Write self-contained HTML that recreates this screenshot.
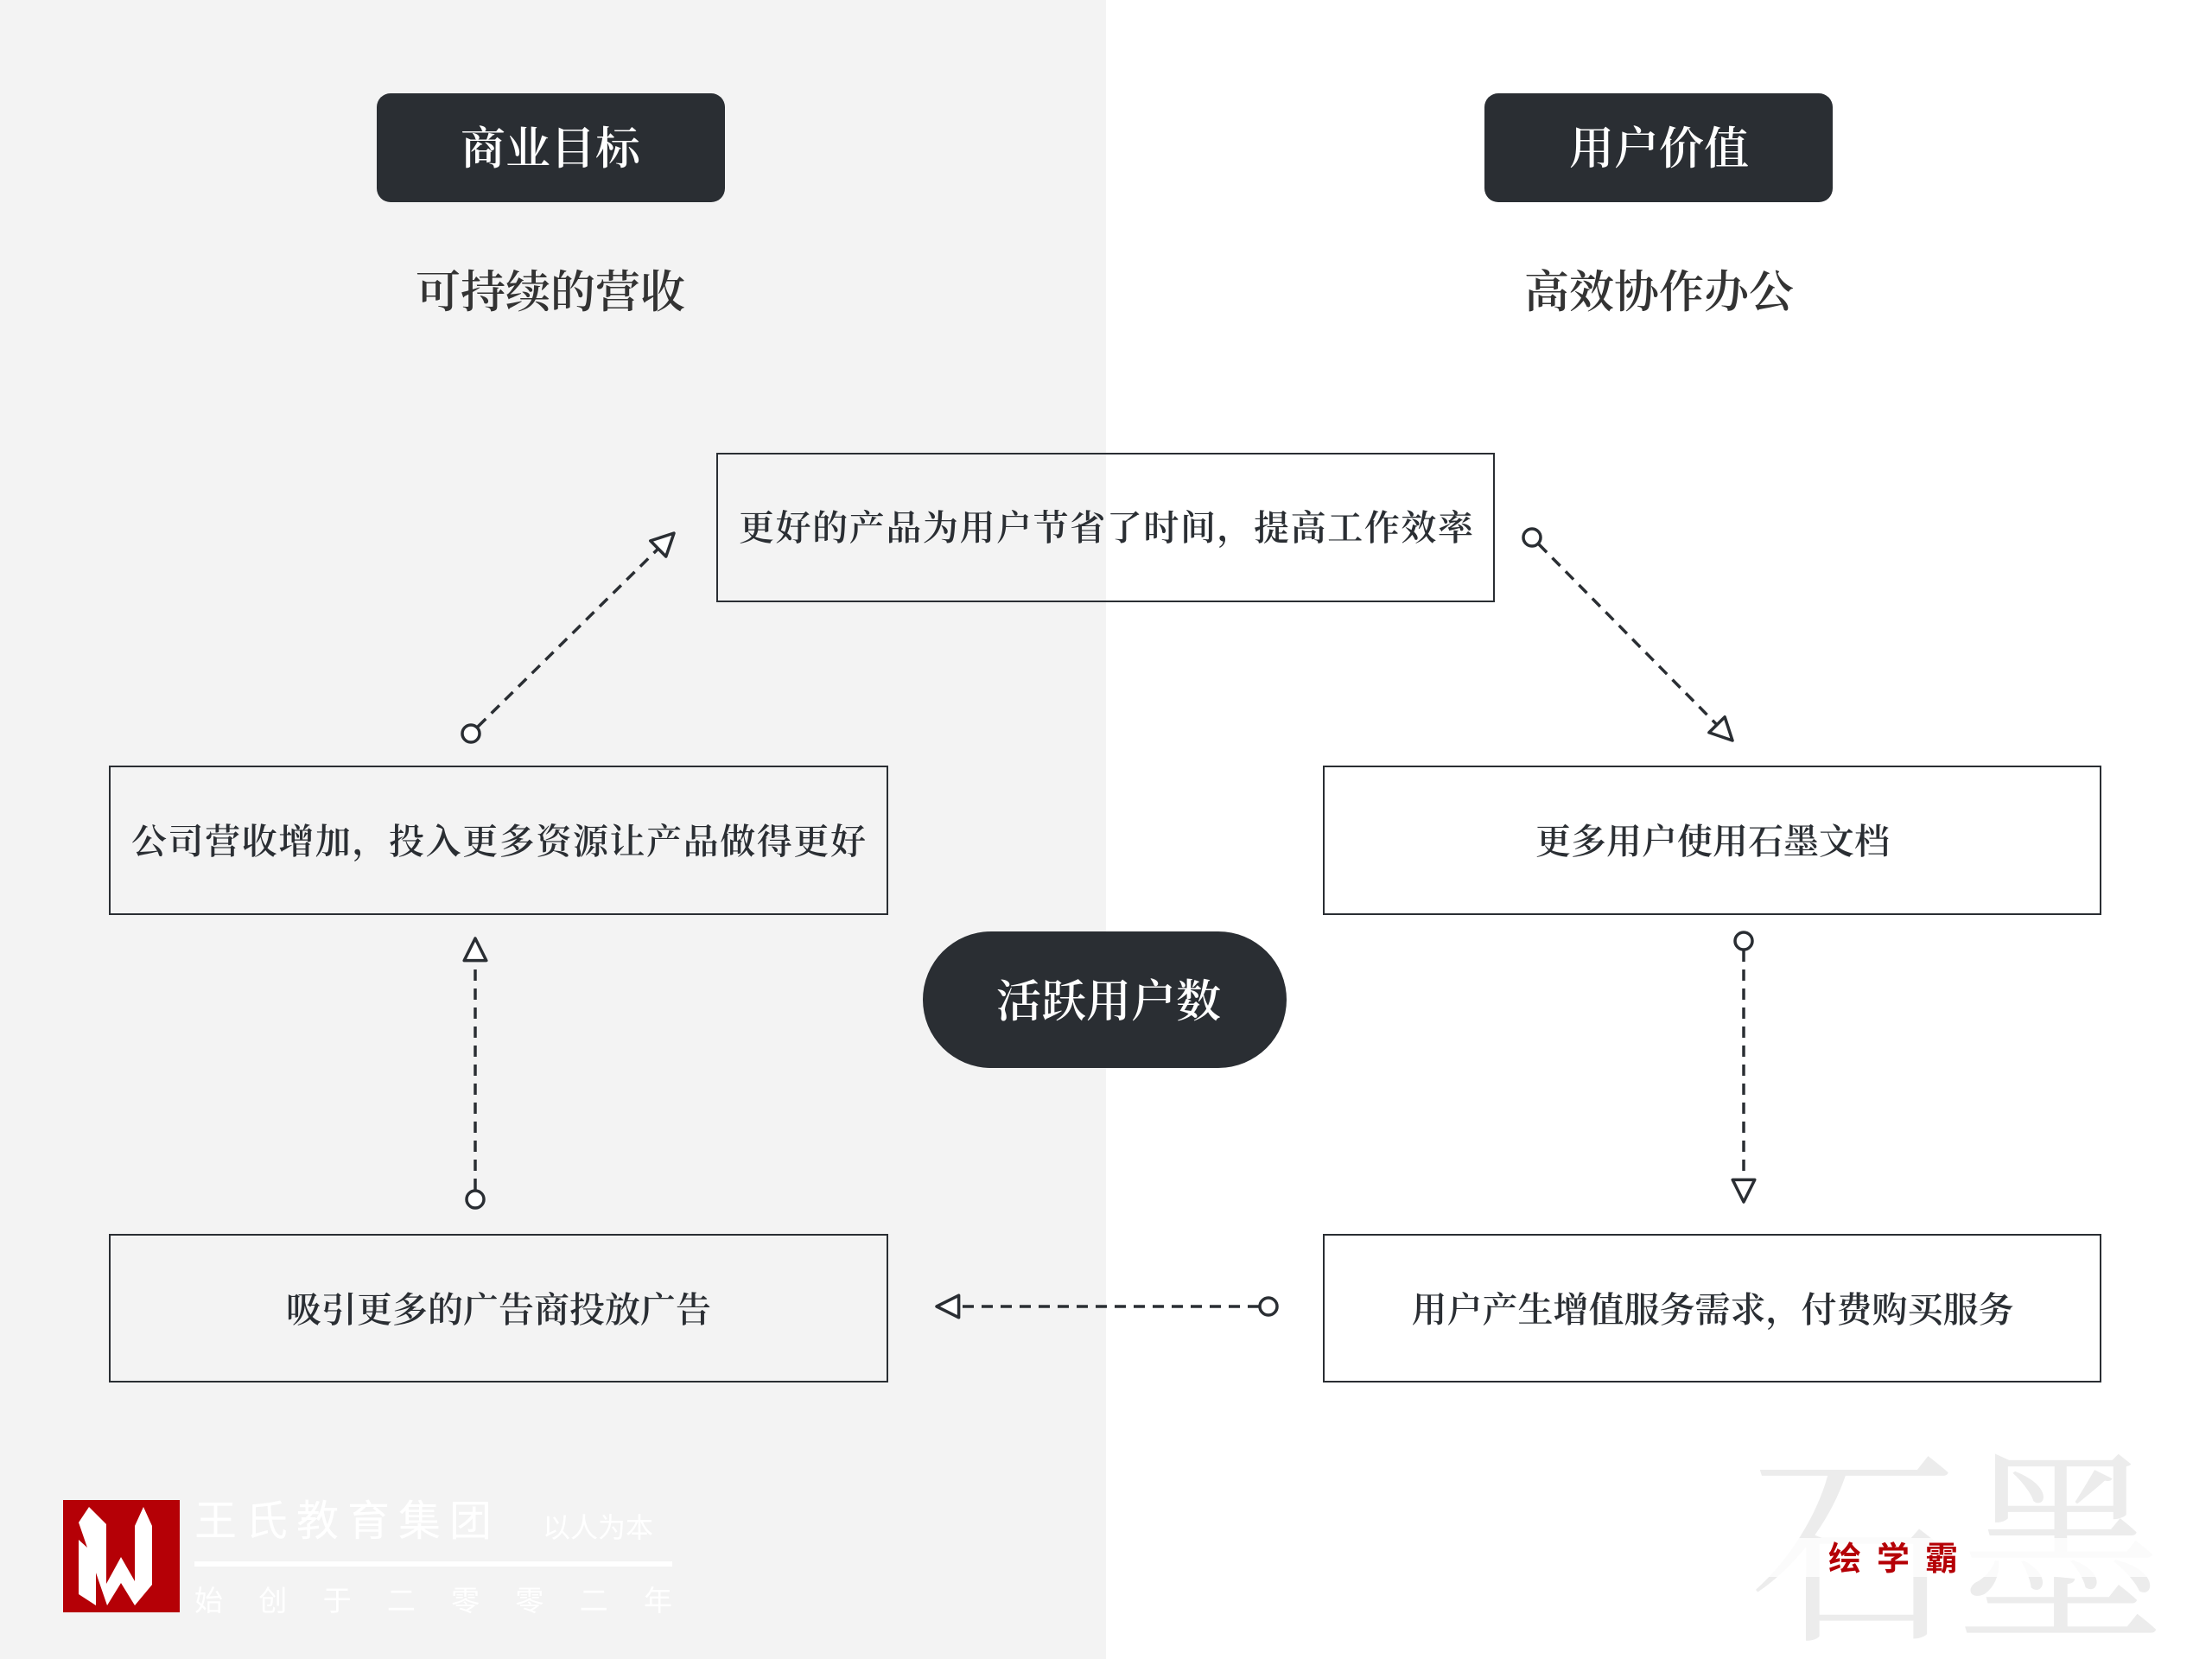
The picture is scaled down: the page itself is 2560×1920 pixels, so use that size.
<!DOCTYPE html>
<html><head><meta charset="utf-8"><style>
html,body{margin:0;padding:0;width:2560px;height:1920px;overflow:hidden;background:#fff}
svg{display:block}
.s{font-family:"Liberation Serif","Noto Serif CJK SC",serif}
.k{font-family:"Liberation Sans","Noto Sans CJK SC",sans-serif}
</style></head><body>
<svg width="2560" height="1920" viewBox="0 0 2560 1920" xmlns="http://www.w3.org/2000/svg">
<defs>
<marker id="ar" viewBox="0 0 20 20" refX="18" refY="10" markerWidth="32" markerHeight="32" markerUnits="userSpaceOnUse" orient="auto">
<path d="M2,2 L18,10 L2,18 Z" fill="#fff" stroke="#2a2e33" stroke-width="2.2" stroke-linejoin="round"/>
</marker>
</defs>
<rect x="0" y="0" width="1280" height="1920" fill="#f3f3f3"/>
<rect x="436" y="108" width="403" height="126" rx="16" fill="#2a2e33"/>
<text x="637" y="190" text-anchor="middle" class="s" font-size="52" font-weight="600" fill="#fff">商业目标</text>
<rect x="1718" y="108" width="403" height="126" rx="16" fill="#2a2e33"/>
<text x="1920" y="190" text-anchor="middle" class="s" font-size="52" font-weight="600" fill="#fff">用户价值</text>
<text x="637" y="356" text-anchor="middle" class="s" font-size="52" font-weight="600" fill="#333">可持续的营收</text>
<text x="1920" y="356" text-anchor="middle" class="s" font-size="52" font-weight="600" fill="#333">高效协作办公</text>

<g fill="none" stroke="#2a2e33" stroke-width="2">
<rect x="830" y="525" width="899" height="171"/>
<rect x="127" y="887" width="900" height="171"/>
<rect x="1532" y="887" width="899" height="171"/>
<rect x="127" y="1429" width="900" height="170"/>
<rect x="1532" y="1429" width="899" height="170"/>
</g>
<g class="s" font-size="41" font-weight="600" fill="#2a2e33" text-anchor="middle">
<text x="1280" y="625" textLength="850">更好的产品为用户节省了时间，提高工作效率</text>
<text x="577" y="988" textLength="850">公司营收增加，投入更多资源让产品做得更好</text>
<text x="1982" y="988">更多用户使用石墨文档</text>
<text x="577" y="1530">吸引更多的广告商投放广告</text>
<text x="1982" y="1530">用户产生增值服务需求，付费购买服务</text>
</g>
<rect x="1068" y="1078" width="421" height="158" rx="79" fill="#2a2e33"/>
<text x="1283" y="1177" text-anchor="middle" class="s" font-size="52" font-weight="600" fill="#fff">活跃用户数</text>

<g fill="none" stroke="#2a2e33" stroke-width="3.5" stroke-dasharray="13 9">
<line x1="553" y1="841" x2="780" y2="617" marker-end="url(#ar)"/>
<line x1="1781" y1="630" x2="2005" y2="857" marker-end="url(#ar)"/>
<line x1="2018" y1="1100" x2="2018" y2="1391" marker-end="url(#ar)"/>
<line x1="1457" y1="1512" x2="1084" y2="1512" marker-end="url(#ar)"/>
<line x1="550" y1="1377" x2="550" y2="1086" marker-end="url(#ar)"/>
</g>
<g fill="#fff" stroke="#2a2e33" stroke-width="3.5">
<circle cx="545" cy="849" r="10"/>
<circle cx="1773" cy="622" r="10"/>
<circle cx="2018" cy="1089" r="10"/>
<circle cx="1468" cy="1512" r="10"/>
<circle cx="550" cy="1388" r="10"/>
</g>

<rect x="73" y="1736" width="135" height="130" fill="#b50006"/>
<path d="M91,1774 L103,1756 L123,1776 L123,1845 L140,1814 L156,1842 L156,1778 L166,1756 L176,1778 L176,1846 L156,1870 L140,1844 L124,1870 Z" fill="#fff" transform="translate(0,-12)"/>
<path d="M91,1782 L111,1800 L111,1858 L91,1845 Z" fill="#fff"/>
<g class="k" fill="#fff">
<text x="225" y="1777" font-size="49" letter-spacing="10">王氏教育集团</text>
<text x="628" y="1779" font-size="32">以人为本</text>
<rect x="225" y="1807" width="553" height="6"/>
<text x="225" y="1864" font-size="33" textLength="553">始　创　于　二　零　零　二　年</text>
</g>
<text x="2025" y="1880" class="s" font-size="240" fill="#ececec">石墨</text>
<rect x="1950" y="1780" width="610" height="45" fill="#fff" opacity="0.8"/>
<text x="2116" y="1817" class="k" font-size="38" font-weight="bold" fill="#b50006" letter-spacing="18">绘学霸</text>
</svg>
</body></html>
